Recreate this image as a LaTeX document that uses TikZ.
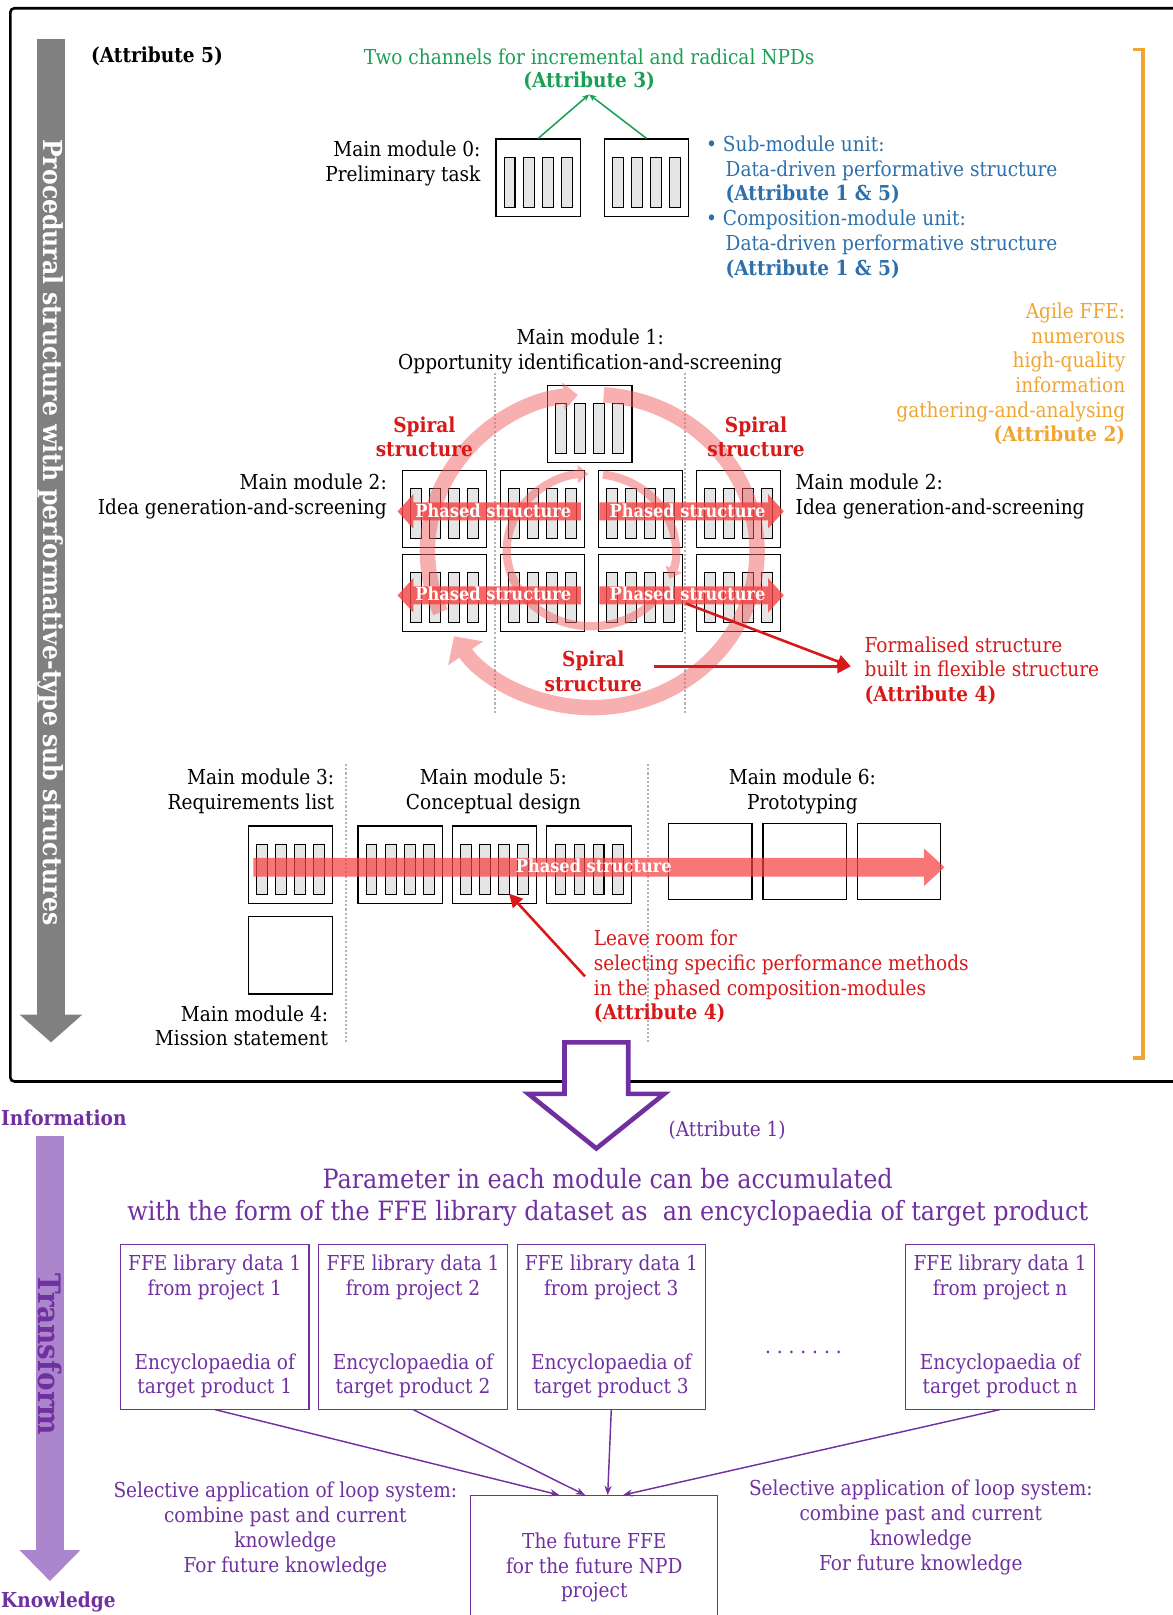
\documentclass[tikz,border=0pt]{standalone}
\usepackage{fontspec}
\setmainfont{DejaVu Serif Condensed}
\usepackage{tikz}
\usetikzlibrary{chains,positioning,shapes.arrows,arrows.meta}

\definecolor{modgreen}{RGB}{25,160,85}
\definecolor{unitblue}{RGB}{46,112,172}
\definecolor{agileorange}{RGB}{240,165,50}
\definecolor{spiralred}{RGB}{215,25,25}
\definecolor{ringpink}{RGB}{240,95,95}
\definecolor{phasedred}{RGB}{245,65,65}
\definecolor{libpurple}{RGB}{112,48,160}
\definecolor{transpurple}{RGB}{172,134,204}
\definecolor{procgray}{RGB}{128,128,128}

\newcommand\txt{\fontsize{20}{24}\selectfont}
\newcommand\txtbf{\fontsize{20}{24}\selectfont\bfseries}
\newcommand\paramfont{\fontsize{25.8}{31}\selectfont}

\tikzstyle{modbox}=[draw,line width=1.2pt,minimum width=82pt,minimum height=75pt,inner sep=0pt,
  path picture={\foreach \k in {0,...,3}
    \draw[fill=gray!20,line width=1pt] ([xshift={8pt+\k*18.5pt},yshift=9pt]path picture bounding box.south west) rectangle ++(10.5pt,48pt);}]
\tikzstyle{emptybox}=[draw,line width=1.2pt,minimum width=81pt,minimum height=74pt,inner sep=0pt]
\tikzstyle{phased}=[single arrow,fill=phasedred,fill opacity=0.8,text opacity=1,text=white,
  font=\fontsize{17.5}{20}\selectfont\bfseries,text height=12pt,text depth=1pt,inner ysep=2pt,inner xsep=2pt,
  single arrow head extend=8pt,single arrow tip angle=95,single arrow head indent=0pt]
\tikzstyle{longphased}=[phased,fill opacity=0.72,inner ysep=2.5pt,single arrow head extend=9pt,single arrow tip angle=85]
\tikzstyle{spiral}=[text=spiralred,font=\txtbf,align=center]
\tikzstyle{ring}=[draw=ringpink]
\tikzstyle{dotline}=[gray!60,line width=2pt,dotted]
\tikzstyle{redarrow}=[draw=spiralred,line width=2.5pt,-{Triangle[length=13pt,width=13pt]}]
\tikzstyle{libbox}=[draw=libpurple,line width=1pt,text=libpurple,minimum width=183pt,minimum height=160pt,align=center]
\tikzstyle{libarrow}=[draw=libpurple,line width=1.4pt,-{Stealth[length=9pt,width=7pt]}]

\begin{document}
\begin{tikzpicture}[x=1pt,y=1pt,every node/.style={font=\txt}]
\useasboundingbox (0,0) rectangle (1138,-1568);

\draw[line width=2.5pt,rounded corners=4pt] (10,-8) rectangle (1175,-1050);

\fill[procgray] (36,-38) -- (63,-38) -- (63,-985) -- (80,-985) -- (49.5,-1012) -- (19,-985) -- (36,-985) -- cycle;
\node[rotate=-90,text=white,font=\fontsize{25.4}{28}\selectfont\bfseries] (proc) at (49.5,-517) {Procedural structure with performative-type sub structures};
\node[anchor=west,font=\txtbf] (attr5) at (85,-55) {(Attribute 5)};

% main module 0
\begin{scope}[start chain=0 going right,node distance=22pt]
    \node [on chain=0,modbox] (m0a) at (522.5,-172.5) {};
    \node [on chain=0,modbox] (m0b) {};
\end{scope}
\node[anchor=east,align=right] (mm0) at (470,-158.5) {Main module 0:\\Preliminary task};
\node[text=modgreen] (chan) at (572,-55) {Two channels for incremental and radical NPDs};
\node[text=modgreen,font=\txtbf] (attr3) at (572,-79) {(Attribute 3)};
\draw[modgreen,line width=1.5pt,-{Stealth[length=7pt,width=6pt]}] (m0a.north) -- (attr3.south);
\draw[modgreen,line width=1.5pt,-{Stealth[length=7pt,width=6pt]}] (m0b.north) -- (attr3.south);
\node[anchor=west,align=left,text=unitblue] (units) at (682,-201) {\textbullet\ Sub-module unit:\\
  \hspace*{19pt}Data-driven performative structure\\
  \hspace*{19pt}\textbf{(Attribute 1 \& 5)}\\
  \textbullet\ Composition-module unit:\\
  \hspace*{19pt}Data-driven performative structure\\
  \hspace*{19pt}\textbf{(Attribute 1 \& 5)}};

% main modules 1 and 2
\node[align=center] (mm1) at (573,-341.5) {Main module 1:\\Opportunity identification-and-screening};
\draw[dotline] (481,-362) -- (481,-692);
\draw[dotline] (665,-362) -- (665,-692);
\node[modbox] (top) at (572.5,-411.5) {};
\begin{scope}[start chain=1 going right,node distance=12pt]
    \node [on chain=1,modbox] (r1a) at (431.5,-494) {};
    \node [on chain=1,modbox] (r1b) {};
    \node [on chain=1,modbox] (r1c) {};
    \node [on chain=1,modbox] (r1d) {};
\end{scope}
\begin{scope}[start chain=2 going right,node distance=12pt]
    \node [on chain=2,modbox] (r2a) at (431.5,-575.5) {};
    \node [on chain=2,modbox] (r2b) {};
    \node [on chain=2,modbox] (r2c) {};
    \node [on chain=2,modbox] (r2d) {};
\end{scope}

\coordinate (ctr) at (575,-535);
\begin{scope}[transparency group,opacity=0.5]
\draw[ring,line width=15pt,-{Triangle[length=14pt,width=26pt]}] (ctr) ++(203:160 and 152) arc[start angle=203,end angle=95,x radius=160,y radius=152];
\draw[ring,line width=15pt,-{Triangle[length=20pt,width=40pt]}] (ctr) ++(86:160 and 152) arc[start angle=86,end angle=-147,x radius=160,y radius=152];
\end{scope}
\coordinate (ictr) at (574,-534);
\begin{scope}[transparency group,opacity=0.5]
\draw[ring,line width=8pt,-{Triangle[length=10pt,width=17pt]}] (ictr) ++(-32:82 and 74) arc[start angle=-32,end angle=-268,x radius=82,y radius=74];
\draw[ring,line width=8pt,-{Triangle[length=10pt,width=17pt]}] (ictr) ++(82:82 and 74) arc[start angle=82,end angle=-22,x radius=82,y radius=74];
\end{scope}

\node[phased,shape border rotate=180,minimum height=178pt] (ph1l) at (479,-496.5) {Phased structure};
\node[phased,minimum height=179pt] (ph1r) at (667.5,-496.5) {Phased structure};
\node[phased,shape border rotate=180,minimum height=178pt] (ph2l) at (479,-578) {Phased structure};
\node[phased,minimum height=179pt] (ph2r) at (667.5,-578) {Phased structure};

\node[spiral] (spl) at (412,-424) {Spiral\\structure};
\node[spiral] (spr) at (734,-424) {Spiral\\structure};
\node[spiral] (spb) at (576,-651.5) {Spiral\\structure};
\node[anchor=east,align=right] (mm2l) at (379,-482) {Main module 2:\\Idea generation-and-screening};
\node[anchor=west,align=left] (mm2r) at (769,-482) {Main module 2:\\Idea generation-and-screening};

\node[anchor=west,align=left,text=spiralred] (formal) at (836,-651) {Formalised structure\\built in flexible structure\\\textbf{(Attribute 4)}};
\coordinate (fin) at (826,-647);
\coordinate (fsrc) at (666,-586);
\coordinate (fmid) at (635,-647);
\draw[redarrow] (fsrc) -- (fin);
\draw[redarrow] (fmid) -- (fin);

\node[anchor=east,align=right,text=agileorange] (agile) at (1096,-363) {Agile FFE:\\numerous\\high-quality\\information\\gathering-and-analysing\\\textbf{(Attribute 2)}};
\draw[agileorange,line width=3.5pt] (1100,-48) -- (1110,-48) -- (1110,-1027) -- (1100,-1027);

% main modules 3 to 6
\node[anchor=east,align=right] (mm3) at (328,-768.5) {Main module 3:\\Requirements list};
\node[align=center] (mm5) at (479,-768.5) {Main module 5:\\Conceptual design};
\node[align=center] (mm6) at (779,-768.5) {Main module 6:\\Prototyping};
\draw[dotline] (336,-742) -- (336,-1012);
\draw[dotline] (629,-742) -- (629,-1012);
\node[modbox] (m3) at (282,-839.5) {};
\node[emptybox,minimum width=82pt,minimum height=75pt] (m4) at (282,-927.5) {};
\begin{scope}[start chain=5 going right,node distance=8.5pt]
    \node [on chain=5,modbox] (m5a) at (388.5,-839.5) {};
    \node [on chain=5,modbox] (m5b) {};
    \node [on chain=5,modbox] (m5c) {};
\end{scope}
\begin{scope}[start chain=6 going right,node distance=9.5pt]
    \node [on chain=6,emptybox] (m6a) at (689.5,-836.5) {};
    \node [on chain=6,emptybox] (m6b) {};
    \node [on chain=6,emptybox] (m6c) {};
\end{scope}
\node[longphased,minimum height=671pt] (ph3) at (576.5,-842) {Phased structure};

\node[anchor=west,align=left,text=spiralred] (leave) at (573,-948) {Leave room for\\selecting specific performance methods\\in the phased composition-modules\\\textbf{(Attribute 4)}};
\coordinate (lsrc) at (568,-948);
\draw[redarrow] (lsrc) -- ([xshift=14pt,yshift=10pt]m5b.south);
\node[anchor=east,align=right] (mm4) at (322,-996) {Main module 4:\\Mission statement};

% library
\draw[libpurple,line width=4.5pt,fill=white,line join=miter] (548,-1012) -- (610,-1012) -- (610,-1062) -- (645,-1062) -- (579,-1115) -- (513,-1062) -- (548,-1062) -- cycle;
\node[text=libpurple] (attr1) at (706,-1097) {(Attribute 1)};
\fill[transpurple] (35,-1103) -- (62,-1103) -- (62,-1505) -- (78,-1505) -- (48.5,-1535) -- (19,-1505) -- (35,-1505) -- cycle;
\node[rotate=-90,text=libpurple,font=\fontsize{30}{32}\selectfont\bfseries] (trans) at (48.5,-1315) {Transform};
\node[text=libpurple,font=\txtbf,anchor=west,inner xsep=1pt] (info) at (0,-1085) {Information};
\node[text=libpurple,font=\txtbf,anchor=west,inner xsep=1pt] (know) at (0,-1555) {Knowledge};
\node[align=center,text=libpurple,font=\paramfont] (param) at (590,-1162.5) {Parameter in each module can be accumulated\\with the form of the FFE library dataset as\ \ an encyclopaedia of target product};

\begin{scope}[start chain=7 going right,node distance=8.5pt]
    \node [on chain=7,libbox] (lib1) at (208.5,-1288) {FFE library data 1\\from project 1\\[48pt]Encyclopaedia of\\target product 1};
    \node [on chain=7,libbox] (lib2) {FFE library data 1\\from project 2\\[48pt]Encyclopaedia of\\target product 2};
    \node [on chain=7,libbox] (lib3) {FFE library data 1\\from project 3\\[48pt]Encyclopaedia of\\target product 3};
\end{scope}
\node[libbox] (libn) at (971,-1288) {FFE library data 1\\from project n\\[48pt]Encyclopaedia of\\target product n};
\node[text=libpurple] (dots) at (780,-1313) {.\ .\ .\ .\ .\ .\ .};

\node[libbox,minimum width=240pt,minimum height=140pt] (fut) at (577,-1522) {The future FFE\\for the future NPD\\project};
\draw[libarrow] (lib1.south) -- ([xshift=-34pt]fut.north);
\draw[libarrow] (lib2.south) -- ([xshift=-9pt]fut.north);
\draw[libarrow] (lib3.south) -- ([xshift=13pt]fut.north);
\draw[libarrow] (libn.south) -- ([xshift=28pt]fut.north);

\node[align=center,text=libpurple] (loopl) at (277,-1485) {Selective application of loop system:\\combine past and current\\knowledge\\For future knowledge};
\node[align=center,text=libpurple] (loopr) at (894,-1483) {Selective application of loop system:\\combine past and current\\knowledge\\For future knowledge};
\end{tikzpicture}
\end{document}
